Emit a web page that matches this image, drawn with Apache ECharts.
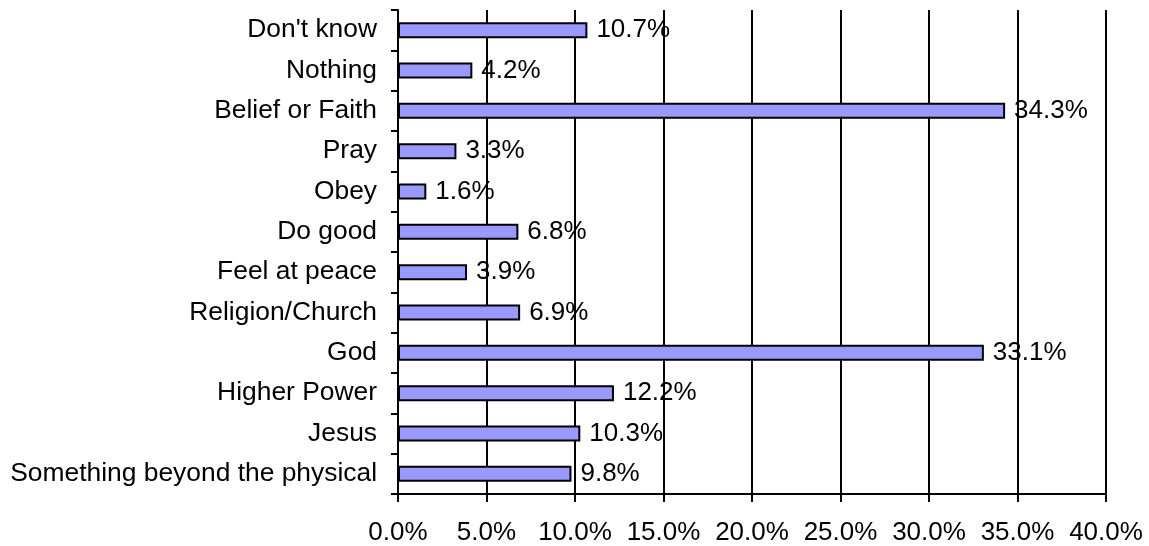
<!DOCTYPE html>
<html>
<head>
<meta charset="utf-8">
<script src="https://cdn.jsdelivr.net/npm/echarts@6/dist/echarts.min.js"></script>
<style>
  html, body { margin: 0; padding: 0; background: #fff; }
  #chart { width: 1149px; height: 546px; }
</style>
</head>
<body>
<div id="chart"></div>
<script>
// Responses, listed bottom to top as they appear on the axis
const categories = [
  'Something beyond the physical',
  'Jesus',
  'Higher Power',
  'God',
  'Religion/Church',
  'Feel at peace',
  'Do good',
  'Obey',
  'Pray',
  'Belief or Faith',
  'Nothing',
  "Don't know"
];
const shares = [9.8, 10.3, 12.2, 33.1, 6.9, 3.9, 6.8, 1.6, 3.3, 34.3, 4.2, 10.7];
const xTicks = [0, 5, 10, 15, 20, 25, 30, 35, 40];

const FONT = '"Liberation Sans", Arial, sans-serif';
const chart = echarts.init(document.getElementById('chart'));

chart.setOption({
  animation: false,
  backgroundColor: '#ffffff',
  grid: { left: 398, right: 43, top: 10, bottom: 51 },
  xAxis: {
    type: 'value',
    min: xTicks[0],
    max: xTicks[xTicks.length - 1],
    interval: xTicks[1] - xTicks[0],
    axisLine: { show: true, lineStyle: { color: '#000', width: 2 } },
    axisTick: { show: true, length: 8, lineStyle: { color: '#000', width: 2 } },
    splitLine: { show: true, lineStyle: { color: '#000', width: 2 } },
    axisLabel: {
      color: '#000',
      fontFamily: FONT,
      fontSize: 26,
      margin: 26,
      formatter: v => v.toFixed(1) + '%'
    }
  },
  yAxis: {
    type: 'category',
    data: categories,
    axisLine: { show: true, lineStyle: { color: '#000', width: 2 } },
    axisTick: { show: true, length: 7, lineStyle: { color: '#000', width: 2 } },
    splitLine: { show: false },
    axisLabel: {
      color: '#000',
      fontFamily: FONT,
      fontSize: 26.4,
      margin: 21
    }
  },
  series: [{
    type: 'bar',
    data: shares,
    barWidth: 16,
    itemStyle: { color: '#9999ff', borderColor: '#000', borderWidth: 2 },
    label: {
      show: true,
      position: 'right',
      distance: 9,
      color: '#000',
      fontFamily: FONT,
      fontSize: 26,
      formatter: p => p.value.toFixed(1) + '%'
    }
  }]
});
</script>
</body>
</html>
